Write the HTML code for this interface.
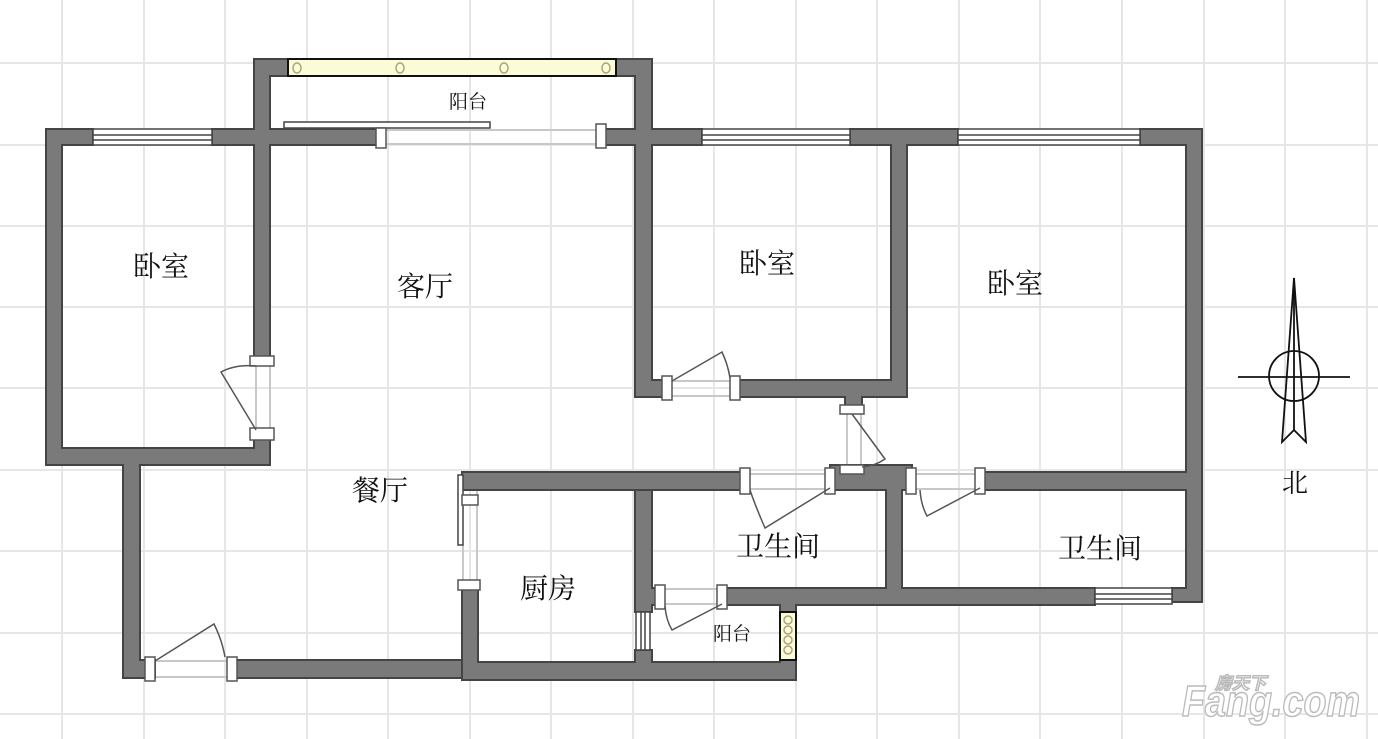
<!DOCTYPE html>
<html><head><meta charset="utf-8"><style>
html,body{margin:0;padding:0;background:#fff;}
svg{display:block;}
text{font-family:"Liberation Serif","Noto Serif CJK SC",serif;fill:#111;}
text.logo{font-family:"Liberation Sans","Noto Sans CJK SC",sans-serif;fill:#fff;}
</style></head><body>
<svg width="1378" height="739" viewBox="0 0 1378 739" xmlns="http://www.w3.org/2000/svg">
<g stroke="#e6e6e6" stroke-width="2">
<line x1="62" y1="0" x2="62" y2="739"/><line x1="144" y1="0" x2="144" y2="739"/><line x1="225" y1="0" x2="225" y2="739"/><line x1="307" y1="0" x2="307" y2="739"/><line x1="388" y1="0" x2="388" y2="739"/><line x1="470" y1="0" x2="470" y2="739"/><line x1="551" y1="0" x2="551" y2="739"/><line x1="633" y1="0" x2="633" y2="739"/><line x1="714" y1="0" x2="714" y2="739"/><line x1="796" y1="0" x2="796" y2="739"/><line x1="877" y1="0" x2="877" y2="739"/><line x1="959" y1="0" x2="959" y2="739"/><line x1="1040" y1="0" x2="1040" y2="739"/><line x1="1122" y1="0" x2="1122" y2="739"/><line x1="1204" y1="0" x2="1204" y2="739"/><line x1="1285" y1="0" x2="1285" y2="739"/><line x1="1367" y1="0" x2="1367" y2="739"/>
<line x1="0" y1="63" x2="1378" y2="63"/><line x1="0" y1="145" x2="1378" y2="145"/><line x1="0" y1="226" x2="1378" y2="226"/><line x1="0" y1="307" x2="1378" y2="307"/><line x1="0" y1="388" x2="1378" y2="388"/><line x1="0" y1="470" x2="1378" y2="470"/><line x1="0" y1="551" x2="1378" y2="551"/><line x1="0" y1="633" x2="1378" y2="633"/><line x1="0" y1="714" x2="1378" y2="714"/>
</g>
<g stroke="#c8c8c8" stroke-width="2" fill="none">
<line x1="385" y1="130" x2="598" y2="130"/><line x1="385" y1="144" x2="598" y2="144"/>
<line x1="256" y1="362" x2="256" y2="430"/><line x1="270" y1="362" x2="270" y2="430"/>
<line x1="668" y1="381" x2="735" y2="381"/><line x1="668" y1="396" x2="735" y2="396"/>
<line x1="847" y1="412" x2="847" y2="470"/><line x1="861" y1="412" x2="861" y2="470"/>
<line x1="745" y1="474" x2="830" y2="474"/><line x1="745" y1="489" x2="830" y2="489"/>
<line x1="912" y1="474" x2="980" y2="474"/><line x1="912" y1="489" x2="980" y2="489"/>
<line x1="463" y1="545" x2="463" y2="585"/><line x1="477" y1="490" x2="477" y2="585"/>
<line x1="660" y1="589" x2="722" y2="589"/><line x1="660" y1="604" x2="722" y2="604"/>
<line x1="155" y1="661" x2="230" y2="661"/><line x1="155" y1="677" x2="230" y2="677"/>
</g>
<g fill="#7a7a7a" stroke="#444" stroke-width="2">
<path d="M46,129 H93 V145 H62 V448 H254 V430 H270 V465 H140 V660 H155 V678 H123 V465 H46 Z"/>
<path d="M212,129 H254 V59 H288 V76 H270 V129 H385 V145 H270 V362 H254 V145 H212 Z"/>
<path d="M616,59 H652 V129 H702 V145 H652 V380 H668 V397 H635 V145 H598 V129 H635 V76 H616 Z"/>
<path d="M850,129 H958 V145 H907 V397 H862 V412 H845 V397 H735 V380 H891 V145 H850 Z"/>
<path d="M1140,129 H1202 V602 H1172 V588 H1186 V490 H980 V472 H1186 V145 H1140 Z"/>
<path d="M462,472 H745 V490 H478 V490 H462 Z"/>
<path d="M830,465 H912 V490 H902 V588 H1095 V605 H796 V612 H780 V605 H722 V588 H886 V490 H830 Z"/>
<path d="M635,490 H652 V588 H660 V605 H652 V612 H635 Z"/>
<path d="M462,585 H478 V662 H635 V650 H652 V662 H780 V660 H796 V680 H462 Z"/>
<path d="M230,660 H462 V678 H230 Z"/>
</g>
<g fill="#fff" stroke="#444" stroke-width="1.5">
<rect x="93" y="129" width="119" height="16"/><line x1="93" y1="135" x2="212" y2="135"/><line x1="93" y1="140" x2="212" y2="140"/>
<rect x="702" y="129" width="148" height="16"/><line x1="702" y1="135" x2="850" y2="135"/><line x1="702" y1="140" x2="850" y2="140"/>
<rect x="958" y="129" width="182" height="16"/><line x1="958" y1="135" x2="1140" y2="135"/><line x1="958" y1="140" x2="1140" y2="140"/>
<rect x="1095" y="588" width="77" height="16"/><line x1="1095" y1="594" x2="1172" y2="594"/><line x1="1095" y1="599" x2="1172" y2="599"/>
<rect x="636" y="612" width="14" height="38"/><line x1="641" y1="612" x2="641" y2="650"/><line x1="645" y1="612" x2="645" y2="650"/>
<rect x="284" y="122" width="206" height="6"/>
<rect x="458" y="475" width="5" height="70"/>
</g>
<rect x="288" y="59" width="328" height="17" fill="#fbfbd8" stroke="#111" stroke-width="2"/>
<g fill="none" stroke="#aaa57a" stroke-width="1.5">
<ellipse cx="297" cy="68" rx="4" ry="5"/><ellipse cx="400" cy="68" rx="4" ry="5"/><ellipse cx="504" cy="68" rx="4" ry="5"/><ellipse cx="606" cy="68" rx="4" ry="5"/>
</g>
<rect x="780" y="612" width="16" height="48" fill="#fbfbd8" stroke="#111" stroke-width="2"/>
<g fill="none" stroke="#aaa57a" stroke-width="1.5">
<circle cx="788" cy="620" r="4"/><circle cx="788" cy="630" r="4"/><circle cx="788" cy="640" r="4"/><circle cx="788" cy="650" r="4"/>
</g>
<g fill="#fff" stroke="#555" stroke-width="1.5">
<rect x="250" y="356" width="24" height="10"/><rect x="250" y="428" width="24" height="12"/>
<rect x="662" y="376" width="10" height="24"/><rect x="730" y="376" width="10" height="24"/>
<rect x="840" y="405" width="24" height="9"/><rect x="840" y="465" width="24" height="9"/>
<rect x="740" y="468" width="10" height="26"/><rect x="825" y="468" width="10" height="26"/>
<rect x="906" y="468" width="10" height="26"/><rect x="975" y="468" width="10" height="26"/>
<rect x="462" y="495" width="16" height="10"/><rect x="458" y="580" width="22" height="10"/>
<rect x="655" y="585" width="10" height="24"/><rect x="717" y="585" width="10" height="24"/>
<rect x="145" y="657" width="10" height="24"/><rect x="227" y="657" width="10" height="24"/>
<rect x="376" y="128" width="10" height="20"/><rect x="596" y="124" width="10" height="24"/>
</g>
<g fill="none" stroke="#555" stroke-width="1.5">
<path d="M256,430 L221,372 Q236,364 256,366"/>
<path d="M672,381 L722,352 Q728,365 730,378"/>
<path d="M852,414 L885,459 Q875,466 862,467"/>
<path d="M830,488 L765,528 Q755,505 750,490"/>
<path d="M980,488 L927,516 Q921,505 920,490"/>
<path d="M722,604 L672,630 Q666,620 665,606"/>
<path d="M155,661 L214,624 Q222,640 225,657"/>
</g>
<g fill="none" stroke="#111" stroke-width="1.8">
<line x1="1238" y1="377" x2="1350" y2="377"/>
<circle cx="1294" cy="376" r="25"/>
<path d="M1294,278 L1282,442 L1294,430 L1306,442 Z"/>
<line x1="1294" y1="278" x2="1294" y2="430"/>
</g>
<g font-size="28">
<text x="161" y="276" text-anchor="middle">卧室</text>
<text x="425" y="296" text-anchor="middle">客厅</text>
<text x="767" y="273" text-anchor="middle">卧室</text>
<text x="1015" y="293" text-anchor="middle">卧室</text>
<text x="380" y="500" text-anchor="middle">餐厅</text>
<text x="548" y="598" text-anchor="middle">厨房</text>
<text x="778" y="556" text-anchor="middle">卫生间</text>
<text x="1100" y="558" text-anchor="middle">卫生间</text>
<text x="1295" y="492" text-anchor="middle" font-size="26">北</text>
</g>
<g font-size="19">
<text x="468" y="108" text-anchor="middle">阳台</text>
<text x="732" y="640" text-anchor="middle">阳台</text>
</g>
<g stroke="#bbb" stroke-width="1.5" font-weight="bold" font-style="italic">
<text class="logo" x="1182" y="716" font-size="44" textLength="178" lengthAdjust="spacingAndGlyphs">Fang.com</text>
<text class="logo" x="1215" y="689" font-size="17">房天下</text>
</g>
</svg>
</body></html>
